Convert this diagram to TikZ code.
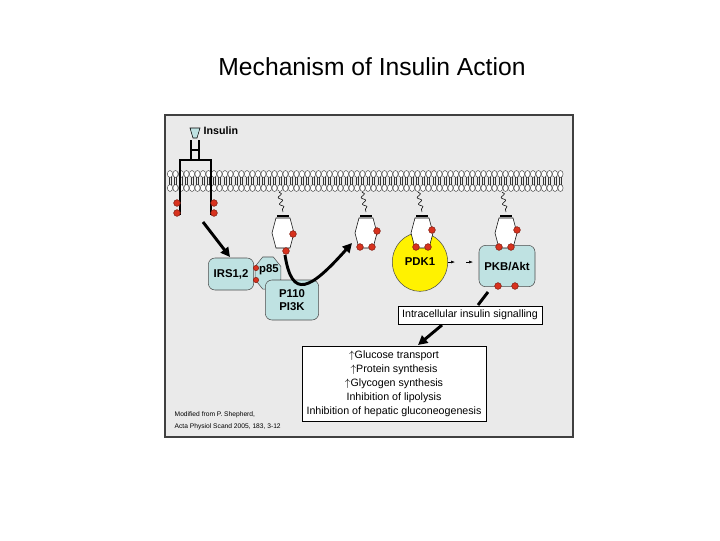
\documentclass[tikz,border=0pt]{standalone}
\usepackage{fontspec}
\setmainfont{Liberation Sans}
\usetikzlibrary{arrows.meta,positioning,shapes.geometric,decorations.pathmorphing}
\definecolor{panelgray}{HTML}{EAEAEA}
\definecolor{protein}{HTML}{BFE2E2}
\definecolor{dotred}{HTML}{D8321E}
\tikzset{
  box/.style={draw=black!70,rounded corners=5pt,fill=protein,font=\bfseries\fontsize{8.5}{10}\selectfont,align=center},
  rdot/.style={circle,fill=dotred,draw=dotred!60!black,inner sep=0pt,minimum size=5pt},
  fat/.style={line width=2.2pt,-{Triangle[length=7pt,width=7pt]}},
}
\newcommand\hexprot[1]{\draw[fill=white] (#1-7,218) -- (#1+7,218) -- (#1+11,233) -- (#1+7,248) -- (#1-7,248) -- (#1-11,233) -- cycle;}
\begin{document}
\begin{tikzpicture}[x=0.75pt,y=-0.75pt]
\useasboundingbox (0,0) rectangle (720,540);
\node (title) at (372,67) {\fontsize{18.5}{22}\selectfont Mechanism of Insulin Action};
\draw[black!75,line width=1.5pt,fill=panelgray] (165,115) rectangle (573,437);
% membrane
\foreach \x in {170,175.5,...,562}{
  \draw[black!80,line width=0.3pt] (\x-1,177) -- (\x-1,185) (\x+1,177) -- (\x+1,185);
  \draw[black!80,line width=0.3pt,fill=white] (\x,174) ellipse (2.6 and 3.5);
  \draw[black!80,line width=0.3pt,fill=white] (\x,188) ellipse (2.6 and 3.5);
}
% receptor
\draw[fill=protein] (190,128) -- (200,128) -- (197,138) -- (193,138) -- cycle;
\node[right,font=\bfseries\fontsize{8}{9}\selectfont] (ins) at (199,131) {Insulin};
\draw[line width=1.2pt] (191,140) -- (191,160) (199,140) -- (199,160) (191,150) -- (199,150);
\draw[line width=1.5pt] (180,215) -- (180,160) -- (211,160) -- (211,215);
\foreach \x/\d in {180/-3,211/3}{
  \node[rdot] at (\x+\d,203) {};
  \node[rdot] at (\x+\d,213) {};
}
% PDK1 and PKB
\node[ellipse,draw=black!70,fill=yellow,minimum width=36pt,minimum height=44pt,font=\bfseries\fontsize{8.5}{10}\selectfont] (pdk) at (420,262) {PDK1};
\node[box,minimum width=42pt,minimum height=31pt] (pkb) at (507,266) {PKB/Akt};
% substrates
\foreach \x in {283,366,422,506}{
  \draw[decorate,decoration={snake,amplitude=1.5pt,segment length=5pt}] (\x-4,192) -- (\x,212);
  \draw[line width=1.2pt] (\x-6,216) -- (\x+6,216);
  \hexprot{\x}
}
\foreach \x/\y in {293/234,286/251,377/231,360/247,372/247,432/230,416/247,428/247,517/230,499/247,511/247,498/286,515/286}{
  \node[rdot] at (\x,\y) {};
}
\draw[-{Latex[length=3pt]}] (448,262) -- (455,262);
\draw[-{Latex[length=3pt]}] (466,262) -- (473,262);
% PI3K complex
\node[regular polygon,regular polygon sides=8,draw=black!70,fill=protein,minimum size=26pt,inner sep=0pt,xscale=0.8] (p85) at (268,273) {};
\node[box,minimum width=34pt,minimum height=24pt] (irs) at (231,274) {IRS1,2};
\node[font=\bfseries\fontsize{8.5}{10}\selectfont] at (269,270) {p85};
\node[rdot,minimum size=4pt] at (256,268) {};
\node[rdot,minimum size=4pt] at (256,280) {};
\node[box,minimum width=40pt,minimum height=30pt] (pi3k) at (292,300) {P110\\PI3K};
\draw[fat] (203,222) -- (230,257);
\draw[fat] (285,255) .. controls (292,300) and (310,290) .. (352,243);
% outputs
\node[draw,fill=white,inner sep=3pt,font=\fontsize{8}{10}\selectfont] (sig) at (470,315) {Intracellular insulin signalling};
\draw[line width=2.2pt] (488,292) -- (478,305);
\draw[fat] (442,325) -- (418,345);
\node[draw,fill=white,align=center,font=\fontsize{8}{10.5}\selectfont,minimum width=136pt,minimum height=56pt] (eff) at (394,384)
 {$\uparrow$Glucose transport\\$\uparrow$Protein synthesis\\$\uparrow$Glycogen synthesis\\Inhibition of lipolysis\\Inhibition of hepatic gluconeogenesis};
\node[align=left,anchor=north west,font=\fontsize{5}{9}\selectfont] (src) at (170,407) {Modified from P. Shepherd,\\Acta Physiol Scand 2005, 183, 3-12};
\end{tikzpicture}
\end{document}
